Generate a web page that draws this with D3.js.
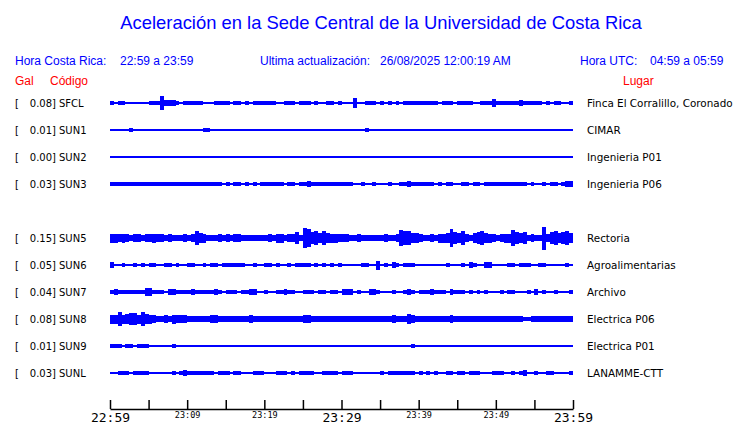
<!DOCTYPE html>
<html>
<head>
<meta charset="utf-8">
<script src="https://cdn.jsdelivr.net/npm/d3@7"></script>
<style>
  body { margin: 0; background: #fff; }
  svg { display: block; }
</style>
</head>
<body>
<div id="chart"></div>
<script>
// Stations, places and peak acceleration (Gal)
var codes  = ["SFCL", "SUN1", "SUN2", "SUN3", "SUN5", "SUN6", "SUN7", "SUN8", "SUN9", "SUNL"];
var places = ["Finca El Corralillo, Coronado", "CIMAR", "Ingenieria P01", "Ingenieria P06", "Rectoria",
              "Agroalimentarias", "Archivo", "Electrica P06", "Electrica P01", "LANAMME-CTT"];
var peaks  = [0.08, 0.01, 0.00, 0.03, 0.15, 0.05, 0.04, 0.08, 0.01, 0.03];

// Envelope of each trace, one value every 30 s from 22:59 to 23:59, in 0.01 Gal
var sfcl = [2,0,2,2,0,0,0,0,0,0, 2,2,2,8,3,3,3,2,0,2, 2,2,2,2,0,0,0,2,2,2, 2,0,2,2,0,2,0,2,2,2,
            2,2,2,0,0,2,2,2,0,2, 2,2,0,2,0,0,2,2,0,2, 0,0,0,6,0,0,2,2,2,0, 2,0,2,0,2,0,2,2,2,2,
            2,2,2,2,2,0,2,2,2,0, 2,2,2,2,0,0,2,2,2,4, 2,2,2,2,2,2,3,2,2,2, 2,2,0,2,0,2,2,0,0,2];
var sun1 = [0,0,0,0,0,2,0,0,0,0, 0,0,0,0,0,0,0,0,0,0, 0,0,0,0,2,2,0,0,0,0, 0,0,0,0,0,0,0,0,0,0,
            0,0,0,0,0,0,0,0,0,0, 0,0,0,0,0,0,0,0,0,0, 0,0,0,0,0,0,2,0,0,0, 0,0,0,0,0,0,0,0,0,0,
            0,0,0,0,0,0,0,0,0,0, 0,0,0,0,0,0,0,0,0,0, 0,0,0,0,0,0,0,0,0,0, 0,0,0,0,0,0,0,0,0,0];
var sun2 = [0,0,0,0,0,0,0,0,0,0, 0,0,0,0,0,0,0,0,0,0, 0,0,0,0,0,0,0,0,0,0, 0,0,0,0,0,0,0,0,0,0,
            0,0,0,0,0,0,0,0,0,0, 0,0,0,0,0,0,0,0,0,0, 0,0,0,0,0,0,0,0,0,0, 0,0,0,0,0,0,0,0,0,0,
            0,0,0,0,0,0,0,0,0,0, 0,0,0,0,0,0,0,0,0,0, 0,0,0,0,0,0,0,0,0,0, 0,0,0,0,0,0,0,0,0,0];
var sun3 = [2,2,2,2,2,2,2,2,2,2, 2,2,2,2,2,2,2,2,2,2, 2,2,2,2,2,2,2,2,2,0, 2,0,2,2,0,2,0,2,0,2,
            2,2,2,2,2,0,2,2,0,2, 2,3,2,2,2,2,2,2,2,2, 2,2,2,0,0,2,0,0,2,0, 0,0,2,0,0,2,2,3,2,2,
            2,2,2,2,0,2,0,2,2,0, 0,2,2,0,2,2,0,2,2,2, 2,2,2,2,2,2,2,2,0,2, 0,0,2,0,2,2,0,2,3,3];
var sun5 = [5,5,4,5,4,3,4,4,3,4, 4,5,4,4,3,4,3,3,3,4, 3,4,9,6,5,3,3,3,4,3, 4,3,4,4,3,3,3,3,3,3,
            3,4,3,5,5,3,4,4,7,3, 13,11,7,8,6,9,6,5,5,4, 4,4,3,3,4,3,3,3,3,3, 3,4,3,3,4,10,8,8,6,6,
            4,3,3,4,3,5,5,6,11,7, 6,8,4,3,6,7,8,6,5,4, 3,4,5,5,10,7,6,7,3,4, 3,3,15,4,7,8,6,7,8,6];
var sun6 = [3,0,0,2,0,0,2,0,2,0, 2,2,0,0,2,2,0,2,0,0, 2,2,0,0,2,0,2,2,0,2, 2,2,2,2,2,0,0,2,0,0,
            2,2,0,2,0,0,2,0,2,2, 2,2,0,2,0,2,0,2,0,2, 0,0,0,0,0,2,2,0,0,5, 0,2,0,3,2,0,2,2,2,0,
            0,0,0,0,0,0,0,2,0,0, 0,2,0,3,2,0,0,3,3,0, 0,0,0,2,2,0,2,2,2,0, 0,2,2,0,0,0,0,0,2,0];
var sun7 = [2,3,2,2,2,2,2,2,2,4, 4,2,2,2,0,3,3,2,2,2, 2,3,2,2,2,2,2,3,2,0, 2,2,2,0,2,2,3,3,0,0,
            2,0,0,2,2,3,2,2,0,0, 2,2,2,0,2,2,0,2,2,0, 3,3,3,0,2,0,0,3,3,2, 0,0,0,2,0,0,2,3,2,0,
            2,2,2,3,2,2,2,0,3,2, 2,2,0,2,0,2,0,2,0,0, 0,2,0,2,2,0,0,0,2,0, 3,0,2,0,0,2,0,0,0,2];
var sun8 = [5,5,8,5,6,7,7,5,8,6, 5,4,3,3,4,3,5,4,4,4, 3,3,3,3,3,3,4,4,3,3, 3,3,3,3,3,3,4,3,3,3,
            3,3,3,3,3,3,3,3,3,3, 4,4,3,3,3,3,3,3,3,3, 3,3,3,3,3,3,3,3,3,3, 3,3,3,4,3,3,3,6,4,3,
            3,3,3,3,3,3,3,3,4,3, 3,3,3,3,3,3,3,3,3,3, 3,3,3,3,3,3,3,2,2,3, 3,3,3,3,3,3,3,3,3,3];
var sun9 = [2,2,2,0,2,2,0,2,2,2, 0,0,0,0,0,0,2,0,0,0, 0,0,0,0,0,0,0,0,0,0, 0,0,0,0,0,0,0,0,0,0,
            0,0,0,0,0,0,0,0,0,0, 0,0,0,0,0,0,0,0,0,0, 0,0,0,0,0,0,0,0,0,0, 0,0,0,0,0,0,0,0,2,0,
            0,0,0,0,0,0,0,0,0,0, 0,0,0,0,0,0,0,0,0,0, 0,0,0,0,0,0,0,0,0,0, 0,0,0,0,0,0,0,0,0,0];
var sunl = [0,0,2,2,2,0,2,2,2,2, 0,0,0,0,0,0,2,0,2,3, 2,2,2,2,2,2,2,0,2,2, 2,0,2,2,0,0,0,2,2,2,
            0,0,0,2,2,2,0,2,0,2, 2,2,2,0,0,2,2,2,2,0, 2,2,2,0,0,0,0,0,0,0, 2,0,2,2,2,2,2,2,2,0,
            2,0,2,0,2,0,0,2,2,0, 2,2,0,2,2,2,0,0,0,2, 2,2,0,0,2,0,2,3,0,0, 2,0,0,2,2,0,0,0,0,2];
var traces = [sfcl, sun1, sun2, sun3, sun5, sun6, sun7, sun8, sun9, sunl];

// Time axis
var startTime = "2025-08-25T22:59", endTime = "2025-08-25T23:59";
var tickMinutes = [0, 5, 10, 15, 20, 25, 30, 35, 40, 45, 50, 55, 60];
var labelMinutes = [0, 10, 20, 30, 40, 50, 60];
var bigMinutes = [0, 30, 60];

var width = 740, height = 423;
var blue = "#0000ff", red = "#ff0000";

var svg = d3.select("#chart").append("svg")
    .attr("width", width)
    .attr("height", height);

svg.append("rect").attr("width", width).attr("height", height).attr("fill", "#fff");

var t0 = new Date(startTime), t1 = new Date(endTime);
var x = d3.scaleTime().domain([t0, t1]).range([110, 573]);
var atMinute = function(m) { return d3.timeSecond.offset(t0, Math.round(m * 60)); };

// row slots: a blank slot is left after the fourth station
var rowY = d3.scaleLinear().domain([0, 1]).range([103, 130]);
var slot = function(i) { return i < 4 ? i : i + 1; };
var amp = d3.scaleLinear().domain([0, 0.15]).range([0, 10.5]);
var traceWidth = 2;

// Header
svg.append("text")
    .attr("x", 381).attr("y", 29)
    .attr("text-anchor", "middle")
    .style("font-family", "'Liberation Sans', Arial, sans-serif")
    .style("font-size", "18.4px")
    .attr("fill", blue)
    .text("Aceleración en la Sede Central de la Universidad de Costa Rica");

var header = [
    {x: 15,  text: "Hora Costa Rica:"}, {x: 120, text: "22:59 a 23:59"},
    {x: 260, text: "Ultima actualización:"}, {x: 380, text: "26/08/2025 12:00:19 AM"},
    {x: 580, text: "Hora UTC:"}, {x: 650, text: "04:59 a 05:59"}
];
svg.append("g").selectAll("text")
    .data(header)
    .enter().append("text")
    .attr("x", function(d) { return d.x; })
    .attr("y", 65)
    .style("font-family", "'Liberation Sans', Arial, sans-serif")
    .style("font-size", "12px")
    .attr("fill", blue)
    .text(function(d) { return d.text; });

var redLabels = [{x: 15, text: "Gal"}, {x: 50, text: "Código"}, {x: 623, text: "Lugar"}];
svg.append("g").selectAll("text")
    .data(redLabels)
    .enter().append("text")
    .attr("x", function(d) { return d.x; })
    .attr("y", 85)
    .style("font-family", "'Liberation Sans', Arial, sans-serif")
    .style("font-size", "12px")
    .attr("fill", red)
    .text(function(d) { return d.text; });

// Station rows
var rows = svg.append("g").selectAll(".row")
    .data(codes)
    .enter().append("g")
    .attr("class", "row")
    .attr("transform", function(d, i) { return "translate(0," + rowY(slot(i)) + ")"; });

var labelFont = "'DejaVu Sans', Verdana, sans-serif";

rows.append("text").attr("x", 15).attr("y", 4)
    .style("font-family", labelFont).style("font-size", "10px")
    .text("[");
rows.append("text").attr("x", 56).attr("y", 4)
    .attr("text-anchor", "end")
    .style("font-family", labelFont).style("font-size", "10px")
    .text(function(d, i) { return peaks[i].toFixed(2) + "]"; });
rows.append("text").attr("x", 59).attr("y", 4)
    .style("font-family", labelFont).style("font-size", "10px")
    .text(function(d) { return d; });
rows.append("text").attr("x", 587).attr("y", 4)
    .style("font-family", labelFont).style("font-size", "10.4px")
    .text(function(d, i) { return places[i]; });

// baseline of each trace
rows.append("line")
    .attr("x1", x(t0)).attr("x2", x(t1))
    .attr("y1", 0).attr("y2", 0)
    .attr("stroke", blue)
    .attr("stroke-width", traceWidth)
    .attr("shape-rendering", "crispEdges");

// envelope blocks (the trace stroke adds half its width on each side)
rows.each(function(d, r) {
    var samples = traces[r].map(function(v, i) { return {i: i, v: v / 100}; })
        .filter(function(s) { return s.v > 0; });
    d3.select(this).selectAll("rect")
        .data(samples)
        .enter().append("rect")
        .attr("x", function(s) { return x(atMinute(s.i / 2)); })
        .attr("width", function(s) { return x(atMinute((s.i + 1) / 2)) - x(atMinute(s.i / 2)); })
        .attr("y", function(s) { return -amp(s.v) - traceWidth / 2; })
        .attr("height", function(s) { return 2 * amp(s.v) + traceWidth; })
        .attr("fill", blue)
        .attr("shape-rendering", "crispEdges");
});

// Time axis, ticks pointing up
var axis = d3.axisBottom(x)
    .tickValues(tickMinutes.map(atMinute))
    .tickSizeInner(-9)
    .tickSizeOuter(0)
    .tickFormat(function(d) {
        var m = Math.round((d - t0) / 60000);
        return labelMinutes.indexOf(m) >= 0 ? d3.timeFormat("%H:%M")(d) : "";
    });

var gAxis = svg.append("g")
    .attr("transform", "translate(0,409)")
    .call(axis);

gAxis.select(".domain").attr("stroke", "#000").attr("stroke-width", 1.5);
gAxis.selectAll(".tick line").attr("stroke", "#000").attr("stroke-width", 1.5);
gAxis.selectAll(".tick text")
    .attr("fill", "#000")
    .attr("dy", null)
    .style("font-family", "'DejaVu Sans Mono', monospace")
    .each(function(d) {
        var m = Math.round((d - t0) / 60000);
        var big = bigMinutes.indexOf(m) >= 0;
        d3.select(this)
            .attr("y", big ? 13 : 9)
            .style("font-size", big ? "13px" : "8.5px");
    });
</script>
</body>
</html>
